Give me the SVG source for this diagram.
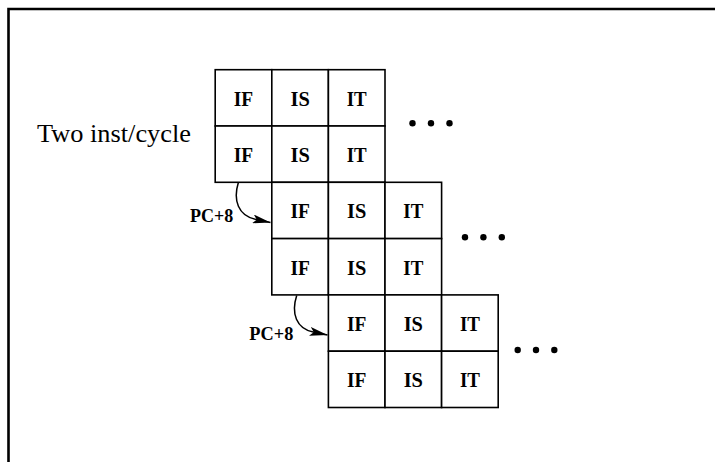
<svg xmlns="http://www.w3.org/2000/svg" width="715" height="462" viewBox="0 0 715 462">
<style>
.cell rect{fill:#fff;stroke:#000;stroke-width:1.6}
.cell text{font-family:"Liberation Serif","Times New Roman",serif;font-weight:bold;font-size:20.5px;text-anchor:middle;fill:#000}
.lbl{font-family:"Liberation Serif","Times New Roman",serif;font-weight:bold;font-size:19px;fill:#000}
.title{font-family:"Liberation Serif","Times New Roman",serif;font-size:25.5px;fill:#000}
.conn{fill:none;stroke:#000;stroke-width:1.5}
.dot{fill:#000}
</style>
<defs>
<marker id="ah" viewBox="0 0 18 9" refX="18" refY="4.5" markerWidth="18" markerHeight="9" markerUnits="userSpaceOnUse" orient="auto">
<path d="M0,0 L18,4.5 L0,9 L4,4.5 Z" fill="#000"/>
</marker>
</defs>
<rect width="715" height="462" fill="#fff"/>
<path d="M8.5,462 L8.5,9 L715,9" fill="none" stroke="#000" stroke-width="2.6"/>
<text id="title" class="title" x="37" y="141.5" textLength="154" lengthAdjust="spacingAndGlyphs">Two inst/cycle</text>

<g id="b1r1c1" class="cell"><rect x="215.2" y="69.7" width="56.6" height="56.3"/><text x="243.5" y="105.7" textLength="19.4" lengthAdjust="spacingAndGlyphs">IF</text></g>
<g id="b1r1c2" class="cell"><rect x="271.8" y="69.7" width="56.6" height="56.3"/><text x="300.1" y="105.7" textLength="19.3" lengthAdjust="spacingAndGlyphs">IS</text></g>
<g id="b1r1c3" class="cell"><rect x="328.4" y="69.7" width="56.6" height="56.3"/><text x="356.7" y="105.7" textLength="20" lengthAdjust="spacingAndGlyphs">IT</text></g>
<g id="b1r2c1" class="cell"><rect x="215.2" y="126" width="56.6" height="56.3"/><text x="243.5" y="162" textLength="19.4" lengthAdjust="spacingAndGlyphs">IF</text></g>
<g id="b1r2c2" class="cell"><rect x="271.8" y="126" width="56.6" height="56.3"/><text x="300.1" y="162" textLength="19.3" lengthAdjust="spacingAndGlyphs">IS</text></g>
<g id="b1r2c3" class="cell"><rect x="328.4" y="126" width="56.6" height="56.3"/><text x="356.7" y="162" textLength="20" lengthAdjust="spacingAndGlyphs">IT</text></g>

<g id="b2r1c1" class="cell"><rect x="271.8" y="182.3" width="56.6" height="56.3"/><text x="300.1" y="218.3" textLength="19.4" lengthAdjust="spacingAndGlyphs">IF</text></g>
<g id="b2r1c2" class="cell"><rect x="328.4" y="182.3" width="56.6" height="56.3"/><text x="356.7" y="218.3" textLength="19.3" lengthAdjust="spacingAndGlyphs">IS</text></g>
<g id="b2r1c3" class="cell"><rect x="385" y="182.3" width="56.6" height="56.3"/><text x="413.3" y="218.3" textLength="20" lengthAdjust="spacingAndGlyphs">IT</text></g>
<g id="b2r2c1" class="cell"><rect x="271.8" y="238.6" width="56.6" height="56.3"/><text x="300.1" y="274.6" textLength="19.4" lengthAdjust="spacingAndGlyphs">IF</text></g>
<g id="b2r2c2" class="cell"><rect x="328.4" y="238.6" width="56.6" height="56.3"/><text x="356.7" y="274.6" textLength="19.3" lengthAdjust="spacingAndGlyphs">IS</text></g>
<g id="b2r2c3" class="cell"><rect x="385" y="238.6" width="56.6" height="56.3"/><text x="413.3" y="274.6" textLength="20" lengthAdjust="spacingAndGlyphs">IT</text></g>

<g id="b3r1c1" class="cell"><rect x="328.4" y="294.9" width="56.6" height="56.3"/><text x="356.7" y="330.9" textLength="19.4" lengthAdjust="spacingAndGlyphs">IF</text></g>
<g id="b3r1c2" class="cell"><rect x="385" y="294.9" width="56.6" height="56.3"/><text x="413.3" y="330.9" textLength="19.3" lengthAdjust="spacingAndGlyphs">IS</text></g>
<g id="b3r1c3" class="cell"><rect x="441.6" y="294.9" width="56.6" height="56.3"/><text x="469.9" y="330.9" textLength="20" lengthAdjust="spacingAndGlyphs">IT</text></g>
<g id="b3r2c1" class="cell"><rect x="328.4" y="351.2" width="56.6" height="56.3"/><text x="356.7" y="387.2" textLength="19.4" lengthAdjust="spacingAndGlyphs">IF</text></g>
<g id="b3r2c2" class="cell"><rect x="385" y="351.2" width="56.6" height="56.3"/><text x="413.3" y="387.2" textLength="19.3" lengthAdjust="spacingAndGlyphs">IS</text></g>
<g id="b3r2c3" class="cell"><rect x="441.6" y="351.2" width="56.6" height="56.3"/><text x="469.9" y="387.2" textLength="20" lengthAdjust="spacingAndGlyphs">IT</text></g>

<g id="dots1"><circle class="dot" cx="412.5" cy="123.3" r="3.2"/><circle class="dot" cx="431" cy="123.3" r="3.2"/><circle class="dot" cx="449.5" cy="123.3" r="3.2"/></g>
<g id="dots2"><circle class="dot" cx="465" cy="237.3" r="3.2"/><circle class="dot" cx="483.4" cy="237.3" r="3.2"/><circle class="dot" cx="501.8" cy="237.3" r="3.2"/></g>
<g id="dots3"><circle class="dot" cx="517.7" cy="350" r="3.2"/><circle class="dot" cx="536" cy="350" r="3.2"/><circle class="dot" cx="554.3" cy="350" r="3.2"/></g>

<g id="lbl1"><text class="lbl" x="190" y="222.3" textLength="43.3" lengthAdjust="spacingAndGlyphs">PC+8</text></g>
<g id="lbl2"><text class="lbl" x="249.3" y="340" textLength="44" lengthAdjust="spacingAndGlyphs">PC+8</text></g>

<g id="connectors">
<path class="conn" marker-end="url(#ah)" d="M238.3,182.8 C233,200 238,216 256,219.5 L270.5,222.5"/>
<path class="conn" marker-end="url(#ah)" d="M296.7,295.4 C291,313 296,329 314,332.2 L327.5,335"/>
</g>
</svg>
